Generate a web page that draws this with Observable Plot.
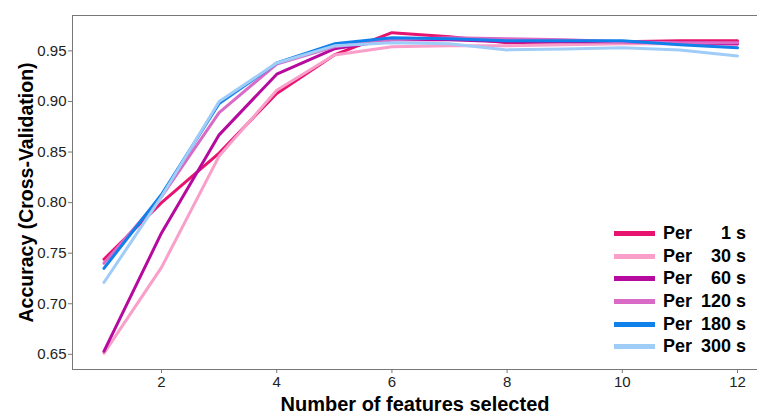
<!DOCTYPE html>
<html>
<head>
<meta charset="utf-8">
<script src="https://cdn.jsdelivr.net/npm/d3@7"></script>
<script src="https://cdn.jsdelivr.net/npm/@observablehq/plot@0.6"></script>
<style>
  html, body { margin: 0; padding: 0; background: #fff; }
  #wrap { position: relative; width: 757px; height: 414px; overflow: hidden; font-family: "Liberation Sans", Arial, sans-serif; }
  #legend { position: absolute; left: 614px; top: 222px; }
  .row { display: flex; align-items: center; height: 22.7px; }
  .sw { width: 41px; height: 5px; margin-right: 8px; }
  .lab { font-weight: bold; font-size: 18px; color: #000; display: flex; width: 83px; }
  .lab .num { flex: 1; text-align: right; }
</style>
</head>
<body>
<div id="wrap"></div>
<script>
const features = [1, 2, 3, 4, 5, 6, 7, 8, 9, 10, 11, 12];
const seriesNames = ["Per   1 s", "Per  30 s", "Per  60 s", "Per 120 s", "Per 180 s", "Per 300 s"];
const seriesNums = ["1 s", "30 s", "60 s", "120 s", "180 s", "300 s"];
const seriesColors = ["#E8126F", "#F99FC9", "#B60A9E", "#D96BC6", "#1080EB", "#A0CDF8"];
const per1   = [0.744, 0.800, 0.849, 0.908, 0.946, 0.968, 0.964, 0.958, 0.959, 0.959, 0.960, 0.960];
const per30  = [0.651, 0.736, 0.846, 0.911, 0.946, 0.954, 0.955, 0.955, 0.956, 0.957, 0.957, 0.956];
const per60  = [0.653, 0.770, 0.867, 0.927, 0.952, 0.961, 0.961, 0.959, 0.959, 0.959, 0.958, 0.957];
const per120 = [0.740, 0.806, 0.889, 0.937, 0.954, 0.961, 0.963, 0.962, 0.961, 0.959, 0.958, 0.958];
const per180 = [0.735, 0.808, 0.898, 0.938, 0.957, 0.963, 0.962, 0.960, 0.960, 0.960, 0.956, 0.953];
const per300 = [0.721, 0.806, 0.900, 0.938, 0.955, 0.958, 0.957, 0.951, 0.952, 0.953, 0.951, 0.945];
const xTicks = [2, 4, 6, 8, 10, 12];
const yTicks = [0.65, 0.70, 0.75, 0.80, 0.85, 0.90, 0.95];
const xTitle = "Number of features selected";
const yTitle = "Accuracy (Cross-Validation)";

const allSeries = [per1, per30, per60, per120, per180, per300];
const data = [];
allSeries.forEach((vals, i) => vals.forEach((v, j) => data.push({series: seriesNames[i], x: features[j], y: v})));

const chart = Plot.plot({
  width: 757,
  height: 414,
  marginLeft: 72,
  marginRight: 0,
  marginTop: 15,
  marginBottom: 45,
  style: {fontFamily: "'Liberation Sans', Arial, sans-serif", background: "#fff"},
  x: {domain: [0.463, 12.347], range: [72.5, 757]},
  y: {domain: [0.635, 0.985]},
  color: {domain: seriesNames, range: seriesColors},
  marks: [
    Plot.frame({anchor: "top", stroke: "#777"}),
    Plot.frame({anchor: "left", stroke: "#777"}),
    Plot.frame({anchor: "bottom", stroke: "#777"}),
    Plot.line(data, {x: "x", y: "y", z: "series", stroke: "series", strokeWidth: 3, strokeLinejoin: "round"}),
    Plot.axisX({ticks: xTicks, tickSize: 4, tickPadding: 3, fontSize: 15, label: null, stroke: "#777", color: "#222"}),
    Plot.axisY({ticks: yTicks, tickSize: 4, tickPadding: 2, fontSize: 15, label: null, tickFormat: d3.format(".2f"), stroke: "#777", color: "#222"}),
    Plot.text([xTitle], {frameAnchor: "bottom", dy: 41, fontSize: 20, fontWeight: "bold", textAnchor: "middle", text: d => d, fill: "#000"}),
    Plot.text([yTitle], {frameAnchor: "left", dx: -46, rotate: -90, fontSize: 19.5, fontWeight: "bold", textAnchor: "middle", text: d => d, fill: "#000"})
  ]
});
const wrap = document.getElementById("wrap");
wrap.appendChild(chart);

const legend = document.createElement("div");
legend.id = "legend";
seriesNames.forEach((name, i) => {
  const row = document.createElement("div");
  row.className = "row";
  row.innerHTML = `<div class="sw" style="background:${seriesColors[i]}"></div><div class="lab"><span>Per</span><span class="num">${seriesNums[i]}</span></div>`;
  legend.appendChild(row);
});
wrap.appendChild(legend);
</script>
</body>
</html>
